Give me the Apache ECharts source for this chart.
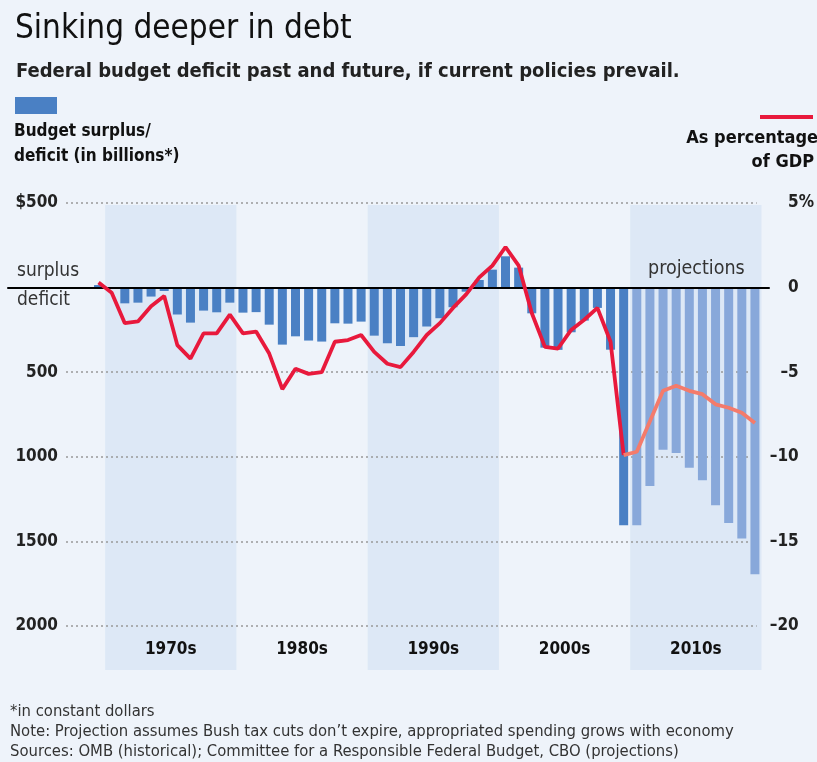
<!DOCTYPE html>
<html><head><meta charset="utf-8">
<script src="https://cdn.jsdelivr.net/npm/echarts@6/dist/echarts.min.js"></script>
<style>html,body{margin:0;padding:0;background:#eef3fa}#c{width:817px;height:762px}</style>
</head><body><div id="c"></div>
<script>
// ---- data ----
const years = ['1969','1970','1971','1972','1973','1974','1975','1976','1977','1978','1979',
  '1980','1981','1982','1983','1984','1985','1986','1987','1988','1989',
  '1990','1991','1992','1993','1994','1995','1996','1997','1998','1999',
  '2000','2001','2002','2003','2004','2005','2006','2007','2008','2009',
  '2010','2011','2012','2013','2014','2015','2016','2017','2018','2019'];
// budget surplus(+)/deficit(-), billions, constant dollars
const balance = [15,-8,-93,-89,-53,-20,-159,-207,-136,-146,-89,
  -148,-145,-219,-337,-288,-313,-319,-211,-213,-201,
  -284,-329,-345,-293,-230,-181,-116,-24,45,106,
  185,118,-152,-355,-368,-264,-195,-120,-367,-1405,
  -1405,-1173,-958,-978,-1064,-1139,-1287,-1391,-1483,-1694];
// as percentage of GDP
const pctGDP = [0.3,-0.3,-2.1,-2.0,-1.1,-0.5,-3.4,-4.2,-2.7,-2.7,-1.6,
  -2.7,-2.6,-3.9,-6.0,-4.8,-5.1,-5.0,-3.2,-3.1,-2.8,
  -3.8,-4.5,-4.7,-3.8,-2.8,-2.1,-1.2,-0.4,0.6,1.3,
  2.4,1.3,-1.5,-3.5,-3.6,-2.5,-1.9,-1.2,-3.2,-9.9,
  -9.7,-7.9,-6.1,-5.8,-6.1,-6.3,-6.9,-7.1,-7.4,-8.0];
const lastActualYear = '2009';
const decadeLabels = ['1970s','1980s','1990s','2000s','2010s'];
const decadeStarts = ['1970','1980','1990','2000','2010'];
const decadeShaded = [true,false,true,false,true];
const leftTicks = {'500':'$500','0':'','-500':'500','-1000':'1000','-1500':'1500','-2000':'2000'};
const rightTicks = {'5':'5','0':'0','-5':'–5','-10':'–10','-15':'–15','-20':'–20'};
const rightUnit = {'5':'%'};

// ---- chart ----
const F = '"DejaVu Sans Condensed","Liberation Sans Narrow","Roboto Condensed",sans-serif';
const TOP = 203, BOTTOM = 136;
const BG = '#eef3fa', BAND = '#dde8f6';
const DARK = '#4a80c4', LIGHT = '#88a8da', RED = '#e8193c', ORANGE = '#f47b6b';
const lastIdx = years.indexOf(lastActualYear);
const tickFont = {fontSize:17, fontWeight:'bold', color:'#222', fontFamily:F};

const chart = echarts.init(document.getElementById('c'), null, {renderer:'canvas'});
const option = {
  backgroundColor: BG,
  animation: false,
  textStyle: {fontFamily: F},
  title: [
    {text:'Sinking deeper in debt', left: 10, top: 8,
     textStyle:{fontSize:33, fontWeight:'normal', color:'#111', fontFamily:F}},
    {text:'Federal budget deficit past and future, if current policies prevail.', left: 11, top: 57,
     textStyle:{fontSize:20, fontWeight:'bold', color:'#222', fontFamily:F}}
  ],
  grid: [
    {left: 8, right: 48, top: TOP, bottom: BOTTOM},
    {left: 66, right: 49, top: TOP, bottom: BOTTOM},
    {left: 92, right: 55.5, top: TOP, bottom: BOTTOM}
  ],
  xAxis: [
    {gridIndex:0, type:'value', min:0, max:1, z:3,
     axisLine:{show:true, onZero:true, lineStyle:{color:'#000', width:2}},
     axisTick:{show:false}, axisLabel:{show:false}, splitLine:{show:false}},
    {gridIndex:1, type:'value', min:0, max:1, show:false},
    {gridIndex:2, type:'category', data: years, show:false}
  ],
  yAxis: [
    {gridIndex:0, type:'value', min:-2000, max:500, show:false},
    {gridIndex:1, type:'value', min:-2000, max:500, interval:500, position:'left',
     axisLine:{show:false}, axisTick:{show:false},
     axisLabel:Object.assign({margin:8, formatter: v => leftTicks[String(v)]}, tickFont),
     splitLine:{lineStyle:{type:[2,3], color:'#999', width:1.5}}},
    {gridIndex:1, type:'value', min:-20, max:5, interval:5, position:'right',
     axisLine:{show:false}, axisTick:{show:false}, splitLine:{show:false},
     axisLabel:Object.assign({margin:42, align:'right', formatter: v => rightTicks[String(v)]}, tickFont)},
    {gridIndex:1, type:'value', min:-20, max:5, interval:5, position:'right', offset:0,
     axisLine:{show:false}, axisTick:{show:false}, splitLine:{show:false},
     axisLabel:Object.assign({margin:42, align:'left', showMinLabel:true, showMaxLabel:true,
       formatter: v => rightUnit[String(v)] || ''}, tickFont)},
    {gridIndex:2, type:'value', min:-2000, max:500, show:false},
    {gridIndex:2, type:'value', min:-20, max:5, show:false}
  ],
  graphic: [
    {type:'rect', left:15, top:97, shape:{width:42, height:17}, style:{fill:DARK}},
    {type:'text', left:14, top:119, style:{text:'Budget surplus/\ndeficit (in billions*)', font:'bold 17px '+F, fill:'#111', lineHeight:25}},
    {type:'rect', left:760, top:115, shape:{width:53, height:4}, style:{fill:RED}},
    {type:'text', right:-1, top:129, style:{text:'As percentage', font:'bold 18px '+F, fill:'#111'}},
    {type:'text', right:3, top:153, style:{text:'of GDP', font:'bold 18px '+F, fill:'#111'}},
    {type:'text', left:17, top:262, style:{text:'surplus', font:'19px '+F, fill:'#333'}},
    {type:'text', left:17, top:291, style:{text:'deficit', font:'19px '+F, fill:'#333'}},
    {type:'text', left:648, top:259, z:10, style:{text:'projections', font:'19.5px '+F, fill:'#333'}},
    {type:'text', left:10, top:702, style:{text:'*in constant dollars\nNote: Projection assumes Bush tax cuts don’t expire, appropriated spending grows with economy\nSources: OMB (historical); Committee for a Responsible Federal Budget, CBO (projections)', font:'16.5px '+F, fill:'#333', lineHeight:20}}
  ],
  series: [
    {type:'custom', xAxisIndex:2, yAxisIndex:4, z:-1, clip:false, silent:true,
     data: decadeStarts.map((s,i) => [s, i]),
     renderItem(params, api){
       const i = api.value(1);
       const pTop = api.coord([api.value(0), 500]);
       const pBot = api.coord([api.value(0), -2000]);
       const bw = api.size([1,0])[0];
       const x0 = pTop[0] - bw/2, w = bw*10;
       const top = pTop[1] + 2, bottom = pBot[1] + 44;
       const children = [];
       if (decadeShaded[i]) children.push({type:'rect', shape:{x:x0, y:top, width:w, height:bottom-top}, style:{fill:BAND}});
       children.push({type:'text', style:{text:decadeLabels[i], x:x0+w/2, y:pBot[1]+24, align:'center', verticalAlign:'middle', fill:'#111', font:'bold 17px '+F}});
       return {type:'group', children};
     }},
    {type:'bar', xAxisIndex:2, yAxisIndex:4, barWidth:9, z:2,
     data: balance.map((v,i) => ({value:v, itemStyle:{color: i <= lastIdx ? DARK : LIGHT}}))},
    {type:'line', xAxisIndex:2, yAxisIndex:5, z:5, symbol:'none',
     lineStyle:{color:RED, width:3.8},
     data: pctGDP.map((v,i) => i <= lastIdx ? v : '-')},
    {type:'line', xAxisIndex:2, yAxisIndex:5, z:5, symbol:'none',
     lineStyle:{color:ORANGE, width:3.8},
     data: pctGDP.map((v,i) => i >= lastIdx ? v : '-')}
  ]
};
chart.setOption(option);
</script></body></html>
